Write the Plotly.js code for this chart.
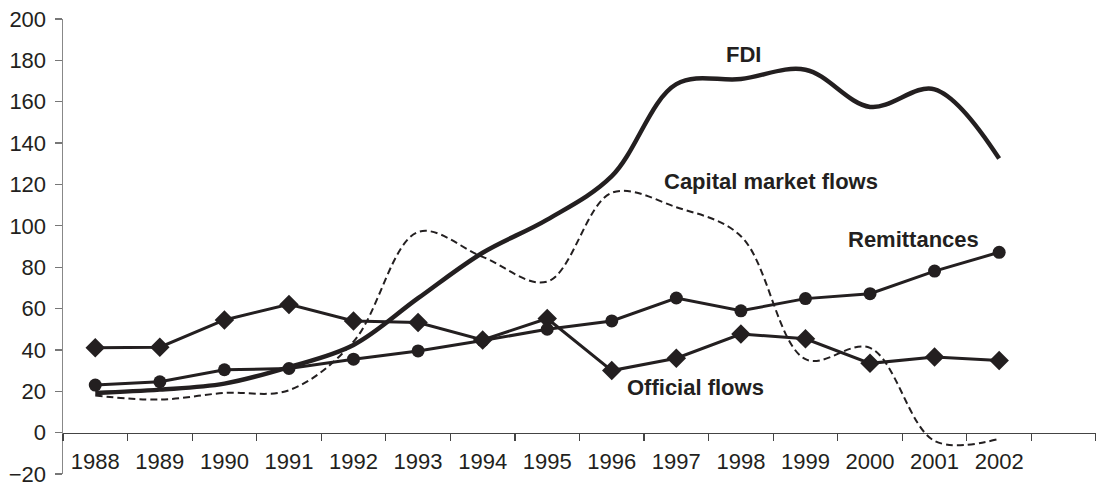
<!DOCTYPE html>
<html>
<head>
<meta charset="utf-8">
<script src="https://cdn.plot.ly/plotly-3.0.1.min.js"></script>
<style>html,body{margin:0;padding:0;background:#fff}#chart{width:1096px;height:487px}</style>
</head>
<body>
<div id="chart"></div>
<script>
const years = [1988,1989,1990,1991,1992,1993,1994,1995,1996,1997,1998,1999,2000,2001,2002];
const fdi = [19.2,20.8,23.7,31.7,42.4,65,87,103,124,168.5,171,175.5,157.5,166,132.5];
const capitalMarket = [17.9,16,19.2,20.5,44,97,85,73,116,109,95,35.5,41,-4,-3];
const remittances = [23,24.6,30.4,31,35.5,39.5,44.5,50,54,65.1,58.9,64.8,67.2,78.1,87.2];
const officialFlows = [41,41.3,54.5,62,54,53.2,44.8,55.2,30,36,47.7,45.4,33.5,36.6,34.9];
const yTicks = [-20,0,20,40,60,80,100,120,140,160,180,200];

const ink = '#231f20';
const traces = [
  {x: years, y: capitalMarket, mode: 'lines', name: 'Capital market flows',
   line: {color: ink, width: 2, dash: '7px,4px', shape: 'spline', smoothing: 1}},
  {x: years, y: officialFlows, mode: 'lines+markers', name: 'Official flows',
   line: {color: ink, width: 3}, marker: {symbol: 'diamond', size: 15, color: ink}},
  {x: years, y: remittances, mode: 'lines+markers', name: 'Remittances',
   line: {color: ink, width: 3}, marker: {symbol: 'circle', size: 13, color: ink}},
  {x: years, y: fdi, mode: 'lines', name: 'FDI',
   line: {color: ink, width: 4.5, shape: 'spline', smoothing: 1}}
];

const annFont = {family: 'Liberation Sans, Arial, sans-serif', size: 22, color: ink, weight: 'bold'};
const layout = {
  width: 1096, height: 487,
  margin: {l: 63, r: 0, t: 19, b: 13},
  paper_bgcolor: '#fff', plot_bgcolor: '#fff',
  showlegend: false,
  font: {family: 'Liberation Sans, Arial, sans-serif', size: 22, color: ink},
  xaxis: {
    range: [1987.5, 2003.5], anchor: 'free', position: 20/220,
    tickmode: 'array', tickvals: years, ticktext: years.map(String),
    ticks: '', showgrid: false, zeroline: false,
    showline: true, linecolor: '#444', linewidth: 1.5,
    tickfont: {size: 22, color: ink}, ticklabelstandoff: 8,
    minor: {tickmode: 'linear', tick0: 1988.5, dtick: 1, ticks: 'outside', ticklen: 7, tickcolor: '#444', tickwidth: 1.2, showgrid: false}
  },
  yaxis: {
    range: [-20, 200], tickmode: 'array', tickvals: yTicks,
    ticks: 'outside', ticklen: 7, tickcolor: '#777', tickwidth: 1.2,
    showline: true, linecolor: '#888', linewidth: 1.5,
    showgrid: false, zeroline: false, ticklabelstandoff: 4,
    ticklabeloverflow: 'allow',
    tickfont: {size: 22, color: ink}
  },
  annotations: [
    {x: 1998.04, y: 183, xref: 'x', yref: 'y', text: '<b>FDI</b>', showarrow: false, font: annFont},
    {x: 1998.47, y: 121.3, xref: 'x', yref: 'y', text: '<b>Capital market flows</b>', showarrow: false, font: annFont},
    {x: 2000.67, y: 93.4, xref: 'x', yref: 'y', text: '<b>Remittances</b>', showarrow: false, font: annFont},
    {x: 1997.30, y: 21.9, xref: 'x', yref: 'y', text: '<b>Official flows</b>', showarrow: false, font: annFont}
  ]
};
Plotly.newPlot('chart', traces, layout, {displayModeBar: false, staticPlot: true});
</script>
</body>
</html>
